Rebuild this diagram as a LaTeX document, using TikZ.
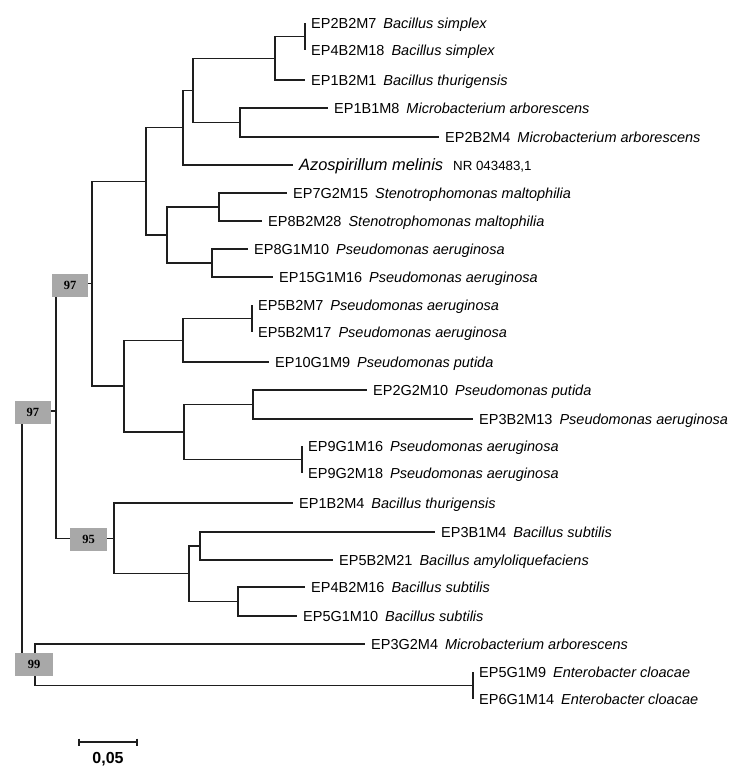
\documentclass[tikz,border=0pt]{standalone}
\usepackage{fontspec}
\setmainfont{Liberation Sans}
\newfontfamily\bootfont{Liberation Serif}
\usetikzlibrary{calc}
\definecolor{branch}{HTML}{1E1E1E}
\definecolor{bootgray}{HTML}{A8A8A8}
\tikzset{
  br/.style={draw=branch, line width=1.3pt},
  leaflabel/.style={anchor=base west, inner sep=0pt, xshift=6pt, yshift=-5.2pt,
    font=\fontsize{14.5}{16}\selectfont, text=black},
  bootbox/.style={fill=bootgray, draw=none, minimum width=36pt, minimum height=23pt,
    inner sep=0pt, font=\bootfont\bfseries\fontsize{12.5}{12.5}\selectfont},
  scalelabel/.style={inner sep=0pt, font=\bfseries\fontsize{16}{16}\selectfont}
}
\newcommand{\spname}[1]{\hspace{7pt}\textit{#1}}
\begin{document}
\begin{tikzpicture}[x=1pt,y=-1pt]
\useasboundingbox (0,0) rectangle (750,769);
\fill[white] (0,0) rectangle (750,769);
% ---- leaves ----
\coordinate (l1) at (305,23);  \coordinate (l2) at (305,50);
\coordinate (l3) at (305,80);
\coordinate (l4) at (328,108); \coordinate (l5) at (439,137);
\coordinate (l6) at (293,165);
\coordinate (l7) at (287,193); \coordinate (l8) at (262,221);
\coordinate (l9) at (248,249); \coordinate (l10) at (273,277);
\coordinate (l11) at (252,305); \coordinate (l12) at (252,332);
\coordinate (l13) at (269,362);
\coordinate (l14) at (367,390); \coordinate (l15) at (473,419);
\coordinate (l16) at (302,446); \coordinate (l17) at (302,473);
\coordinate (l18) at (293,503);
\coordinate (l19) at (435,532); \coordinate (l20) at (333,560);
\coordinate (l21) at (305,587); \coordinate (l22) at (297,616);
\coordinate (l23) at (365,644);
\coordinate (l24) at (473,672); \coordinate (l25) at (473,699);
% ---- internal nodes ----
\coordinate (p12) at (305,36.5);
\coordinate (D) at (275,58.25);
\coordinate (E) at (240,122.5);
\coordinate (C) at (193,90.4);
\coordinate (B) at (183,127.7);
\coordinate (G) at (219,207);
\coordinate (H) at (212,263);
\coordinate (F) at (167,235);
\coordinate (A) at (146,181.35);
\coordinate (p1112) at (252,318.5);
\coordinate (J) at (183,340.25);
\coordinate (Ln) at (253,404.5);
\coordinate (p1617) at (302,459.5);
\coordinate (K) at (184,432);
\coordinate (I) at (124,386.1);
\coordinate (N97a) at (92,283.7);
\coordinate (Nn) at (200,546);
\coordinate (O) at (238,601.5);
\coordinate (M) at (189,573.75);
\coordinate (N95) at (114,538.4);
\coordinate (N97b) at (56,411);
\coordinate (p2425) at (473,685.5);
\coordinate (N99) at (35,664.75);
\coordinate (root) at (22,537.9);
% ---- branches ----
\draw[br] (root) |- (N97b) (root) |- (N99);
\draw[br] (N97b) |- (N97a) (N97b) |- (N95);
\draw[br] (N97a) |- (A) (N97a) |- (I);
\draw[br] (A) |- (B) (A) |- (F);
\draw[br] (B) |- (C) (B) |- (l6);
\draw[br] (C) |- (D) (C) |- (E);
\draw[br] (D) |- (p12) (D) |- (l3);
\draw[br] (p12) |- (l1) (p12) |- (l2);
\draw[br] (E) |- (l4) (E) |- (l5);
\draw[br] (F) |- (G) (F) |- (H);
\draw[br] (G) |- (l7) (G) |- (l8);
\draw[br] (H) |- (l9) (H) |- (l10);
\draw[br] (I) |- (J) (I) |- (K);
\draw[br] (J) |- (p1112) (J) |- (l13);
\draw[br] (p1112) |- (l11) (p1112) |- (l12);
\draw[br] (K) |- (Ln) (K) |- (p1617);
\draw[br] (Ln) |- (l14) (Ln) |- (l15);
\draw[br] (p1617) |- (l16) (p1617) |- (l17);
\draw[br] (N95) |- (l18) (N95) |- (M);
\draw[br] (M) |- (Nn) (M) |- (O);
\draw[br] (Nn) |- (l19) (Nn) |- (l20);
\draw[br] (O) |- (l21) (O) |- (l22);
\draw[br] (N99) |- (l23) (N99) |- (p2425);
\draw[br] (p2425) |- (l24) (p2425) |- (l25);
% ---- leaf labels ----
\node[leaflabel] (t1) at (l1) {EP2B2M7\spname{Bacillus simplex}};
\node[leaflabel] (t2) at (l2) {EP4B2M18\spname{Bacillus simplex}};
\node[leaflabel] (t3) at (l3) {EP1B2M1\spname{Bacillus thurigensis}};
\node[leaflabel] (t4) at (l4) {EP1B1M8\spname{Microbacterium arborescens}};
\node[leaflabel] (t5) at (l5) {EP2B2M4\spname{Microbacterium arborescens}};
\node[leaflabel, yshift=-0.7pt] (t6) at (l6) {{\fontsize{16.4}{18}\selectfont\textit{Azospirillum melinis}}\hspace{10pt}{\fontsize{13.3}{15}\selectfont NR 043483,1}};
\node[leaflabel] (t7) at (l7) {EP7G2M15\spname{Stenotrophomonas maltophilia}};
\node[leaflabel] (t8) at (l8) {EP8B2M28\spname{Stenotrophomonas maltophilia}};
\node[leaflabel] (t9) at (l9) {EP8G1M10\spname{Pseudomonas aeruginosa}};
\node[leaflabel] (t10) at (l10) {EP15G1M16\spname{Pseudomonas aeruginosa}};
\node[leaflabel] (t11) at (l11) {EP5B2M7\spname{Pseudomonas aeruginosa}};
\node[leaflabel] (t12) at (l12) {EP5B2M17\spname{Pseudomonas aeruginosa}};
\node[leaflabel] (t13) at (l13) {EP10G1M9\spname{Pseudomonas putida}};
\node[leaflabel] (t14) at (l14) {EP2G2M10\spname{Pseudomonas putida}};
\node[leaflabel] (t15) at (l15) {EP3B2M13\spname{Pseudomonas aeruginosa}};
\node[leaflabel] (t16) at (l16) {EP9G1M16\spname{Pseudomonas aeruginosa}};
\node[leaflabel] (t17) at (l17) {EP9G2M18\spname{Pseudomonas aeruginosa}};
\node[leaflabel] (t18) at (l18) {EP1B2M4\spname{Bacillus thurigensis}};
\node[leaflabel] (t19) at (l19) {EP3B1M4\spname{Bacillus subtilis}};
\node[leaflabel] (t20) at (l20) {EP5B2M21\spname{Bacillus amyloliquefaciens}};
\node[leaflabel] (t21) at (l21) {EP4B2M16\spname{Bacillus subtilis}};
\node[leaflabel] (t22) at (l22) {EP5G1M10\spname{Bacillus subtilis}};
\node[leaflabel] (t23) at (l23) {EP3G2M4\spname{Microbacterium arborescens}};
\node[leaflabel] (t24) at (l24) {EP5G1M9\spname{Enterobacter cloacae}};
\node[leaflabel] (t25) at (l25) {EP6G1M14\spname{Enterobacter cloacae}};
% ---- bootstrap boxes ----
\node[bootbox] (b97a) at (70,285.5) {97};
\node[bootbox] (b97b) at (33,412) {97};
\node[bootbox, minimum width=37pt] (b95) at (88.5,539.5) {95};
\node[bootbox, minimum width=37.5pt] (b99) at (34,664.5) {99};
% ---- scale bar ----
\coordinate (sbL) at (79,742);
\coordinate (sbR) at (137,742);
\draw[br] (sbL) -- (sbR);
\draw[br] ($(sbL)+(0,-3.5)$) -- ($(sbL)+(0,3.5)$);
\draw[br] ($(sbR)+(0,-3.5)$) -- ($(sbR)+(0,3.5)$);
\node[scalelabel] (sblabel) at (108,759) {0,05};
\end{tikzpicture}
\end{document}
